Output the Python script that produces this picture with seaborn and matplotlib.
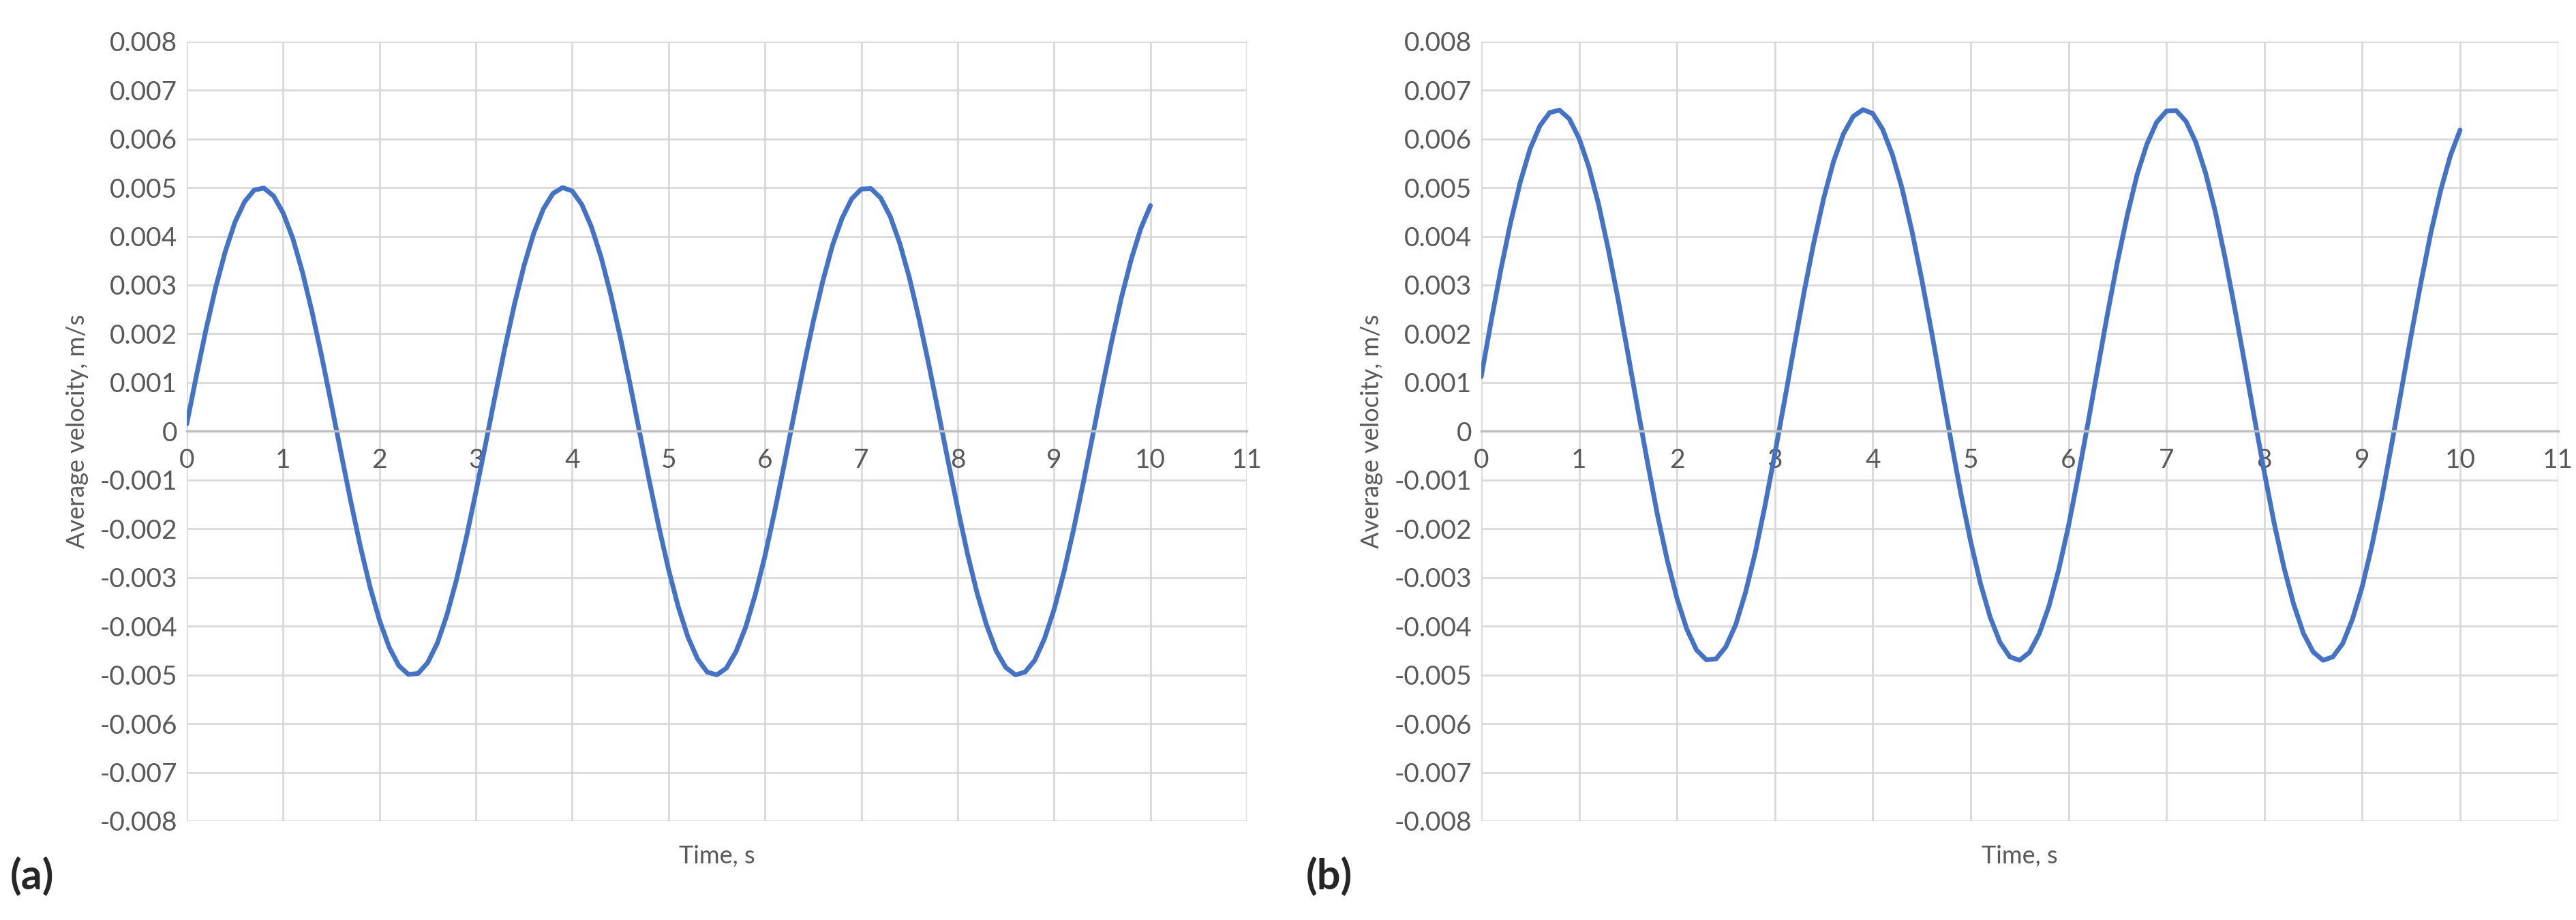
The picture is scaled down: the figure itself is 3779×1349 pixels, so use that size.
import numpy as np
import matplotlib
matplotlib.use('Agg')
import matplotlib.pyplot as plt
import seaborn as sns

# time samples, s
time_s = [round(0.1 * k, 1) for k in range(101)]

# average velocity, in mm/s
vel_a_mm = [0.15, 1.14, 2.09, 2.95, 3.69, 4.29, 4.71, 4.95, 4.99, 4.83, 4.48, 3.96, 3.27, 2.45, 1.54, 0.56,
            -0.44, -1.42, -2.35, -3.18, -3.88, -4.43, -4.81, -4.99, -4.97, -4.75, -4.35, -3.77, -3.04, -2.19,
            -1.25, -0.27, 0.73, 1.70, 2.60, 3.40, 4.06, 4.56, 4.88, 5.00, 4.93, 4.65, 4.19, 3.57, 2.80, 1.92,
            0.97, -0.03, -1.02, -1.97, -2.84, -3.60, -4.22, -4.67, -4.94, -5.00, -4.86, -4.52, -4.02, -3.35,
            -2.56, -1.65, -0.68, 0.32, 1.31, 2.24, 3.08, 3.81, 4.37, 4.77, 4.97, 4.98, 4.79, 4.41, 3.85, 3.14,
            2.30, 1.37, 0.39, -0.61, -1.58, -2.50, -3.31, -3.98, -4.51, -4.85, -5.00, -4.94, -4.70, -4.26,
            -3.66, -2.91, -2.04, -1.09, -0.10, 0.90, 1.86, 2.75, 3.52, 4.16, 4.63]
vel_b_mm = [1.12, 2.24, 3.31, 4.28, 5.12, 5.80, 6.27, 6.54, 6.59, 6.41, 6.01, 5.42, 4.65, 3.72, 2.69, 1.58,
            0.45, -0.65, -1.71, -2.64, -3.43, -4.06, -4.49, -4.69, -4.67, -4.42, -3.97, -3.31, -2.49, -1.52,
            -0.46, 0.64, 1.77, 2.87, 3.89, 4.79, 5.54, 6.10, 6.46, 6.60, 6.52, 6.20, 5.68, 4.98, 4.11, 3.12,
            2.05, 0.92, -0.20, -1.28, -2.26, -3.12, -3.82, -4.33, -4.63, -4.70, -4.54, -4.16, -3.59, -2.84,
            -1.94, -0.91, 0.18, 1.31, 2.43, 3.48, 4.43, 5.26, 5.89, 6.34, 6.57, 6.58, 6.36, 5.93, 5.30, 4.50,
            3.55, 2.50, 1.39, 0.26, -0.84, -1.88, -2.79, -3.55, -4.15, -4.53, -4.70, -4.63, -4.36, -3.86,
            -3.19, -2.34, -1.36, -0.28, 0.84, 1.97, 3.05, 4.06, 4.93, 5.65, 6.18]

x_ticks = list(range(0, 12))
y_ticks = [round(-0.008 + 0.001 * i, 3) for i in range(17)]
panel_labels = ['(a)', '(b)']

sns.set_style('white')
plt.rcParams['font.family'] = ['Lato', 'DejaVu Sans']

fig = plt.figure(figsize=(37.79, 13.49), dpi=100)
positions = [[0.0725, 0.1075, 0.4115, 0.8475], [0.575, 0.1075, 0.418, 0.8475]]
label_x = [0.004, 0.507]
grey = '#595959'

for pos, vel_mm, lab, lx in zip(positions, [vel_a_mm, vel_b_mm], panel_labels, label_x):
    ax = fig.add_axes(pos)
    vel = [v / 1000 for v in vel_mm]
    sns.lineplot(x=time_s, y=vel, ax=ax, color='#4472C4', linewidth=5)
    ax.set_xlim(0, 11)
    ax.set_ylim(-0.008, 0.008)
    ax.set_xticks(x_ticks)
    ax.set_yticks(y_ticks)
    ax.set_yticklabels(['0' if t == 0 else f'{t:.3f}' for t in y_ticks])
    ax.grid(True, color='#d9d9d9', linewidth=2)
    for s in ['top', 'right', 'left']:
        ax.spines[s].set_visible(False)
    ax.spines['bottom'].set_position(('data', 0))
    ax.spines['bottom'].set_color('#bfbfbf')
    ax.spines['bottom'].set_linewidth(2.5)
    ax.tick_params(length=0, labelsize=28, colors=grey, pad=10)
    ax.tick_params(axis='x', pad=18)
    ax.set_xlabel('')
    ax.set_ylabel('Average velocity, m/s', fontsize=26, color=grey, labelpad=12)
    ax.text(0.5, -0.045, 'Time, s', transform=ax.transAxes, ha='center', va='center',
            fontsize=26, color=grey)
    fig.text(lx, 0.048, lab, fontsize=44, fontweight='bold', ha='left', va='center')

fig.savefig('out.png', dpi=100, facecolor='white')
